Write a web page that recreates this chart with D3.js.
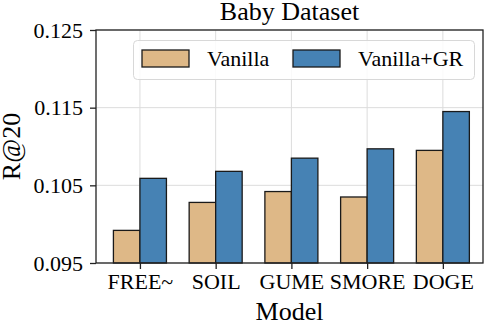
<html>
<head>
<script src="https://cdn.jsdelivr.net/npm/d3@7"></script>
<style>
  body { margin: 0; background: #fff; }
  svg text { font-family: "Liberation Serif", serif; }
  .grid line { stroke: #dcdcdc; stroke-width: 1; }
</style>
</head>
<body>
<div id="chart"></div>
<script>
// data
var models = ["FREE~", "SOIL", "GUME", "SMORE", "DOGE"];
var vanilla = [0.0992, 0.1028, 0.1042, 0.1035, 0.1095];
var vanillaGR = [0.1059, 0.1068, 0.1085, 0.1097, 0.1145];
var yTicks = [0.095, 0.105, 0.115, 0.125];
var seriesNames = ["Vanilla", "Vanilla+GR"];
var colors = ["#DEB887", "#4682B4"];

var W = 488, H = 328;
var plotL = 96, plotR = 483, plotT = 30, plotB = 263;
var barW = 0.35;
var serif = "Liberation Serif";

var svg = d3.select("#chart").append("svg")
    .attr("width", W).attr("height", H)
    .attr("font-family", serif);

var x = d3.scaleLinear().domain([-0.58, 4.53]).range([plotL, plotR]);
var y = d3.scaleLinear().domain([0.095, 0.125]).range([plotB, plotT]);

// grid
var grid = svg.append("g").attr("class", "grid");
grid.selectAll(".gy").data(yTicks).enter().append("line")
    .attr("x1", plotL).attr("x2", plotR)
    .attr("y1", d => y(d)).attr("y2", d => y(d));
grid.selectAll(".gx").data(models).enter().append("line")
    .attr("x1", (d, i) => x(i)).attr("x2", (d, i) => x(i))
    .attr("y1", plotT).attr("y2", plotB);

// bars
var series = [vanilla, vanillaGR];
series.forEach(function(vals, s) {
    svg.append("g").selectAll("rect")
        .data(vals).enter().append("rect")
        .attr("x", (d, i) => x(i - barW + s * barW))
        .attr("width", x(barW) - x(0))
        .attr("y", d => y(d))
        .attr("height", d => y(0.095) - y(d))
        .attr("fill", colors[s])
        .attr("stroke", "#1a1a1a")
        .attr("stroke-width", 1.3);
});

// axes
var yAxis = d3.axisLeft(y).tickValues(yTicks).tickFormat(d3.format(".3f")).tickSize(6).tickPadding(7);
var gy = svg.append("g").attr("transform", "translate(" + plotL + ",0)").call(yAxis)
    .attr("font-family", serif).attr("font-size", 22);
gy.select(".domain").remove();
gy.selectAll("text").attr("fill", "#000");
gy.selectAll("line").attr("stroke", "#222").attr("stroke-width", 1.3);

var xAxis = d3.axisBottom(x).tickValues(d3.range(models.length)).tickFormat(i => models[i]).tickSize(6).tickPadding(4);
var gx = svg.append("g").attr("transform", "translate(0," + plotB + ")").call(xAxis)
    .attr("font-family", serif).attr("font-size", 22);
gx.select(".domain").remove();
gx.selectAll("text").attr("fill", "#000");
gx.selectAll("line").attr("stroke", "#222").attr("stroke-width", 1.3);

// frame
svg.append("rect")
    .attr("x", plotL).attr("y", plotT)
    .attr("width", plotR - plotL).attr("height", plotB - plotT)
    .attr("fill", "none").attr("stroke", "#222").attr("stroke-width", 1.3);

// labels
svg.append("text").attr("x", (plotL + plotR) / 2).attr("y", 20)
    .attr("text-anchor", "middle").attr("font-size", 26).text("Baby Dataset");
svg.append("text").attr("x", (plotL + plotR) / 2).attr("y", 320)
    .attr("text-anchor", "middle").attr("font-size", 26).text("Model");
svg.append("text")
    .attr("transform", "translate(20," + ((plotT + plotB) / 2) + ") rotate(-90)")
    .attr("text-anchor", "middle").attr("font-size", 26).text("R@20");

// legend
var lg = svg.append("g");
lg.append("rect")
    .attr("x", 133.5).attr("y", 40.5).attr("width", 341).attr("height", 39)
    .attr("rx", 4).attr("fill", "#fff").attr("fill-opacity", 0.85)
    .attr("stroke", "#d8d8d8").attr("stroke-width", 1);
var legX = [142, 293];
seriesNames.forEach(function(name, s) {
    lg.append("rect")
        .attr("x", legX[s]).attr("y", 50).attr("width", 47).attr("height", 17)
        .attr("fill", colors[s]).attr("stroke", "#1a1a1a").attr("stroke-width", 1.3);
    lg.append("text")
        .attr("x", legX[s] + 65).attr("y", 66)
        .attr("font-size", 22).text(name);
});
</script>
</body>
</html>
